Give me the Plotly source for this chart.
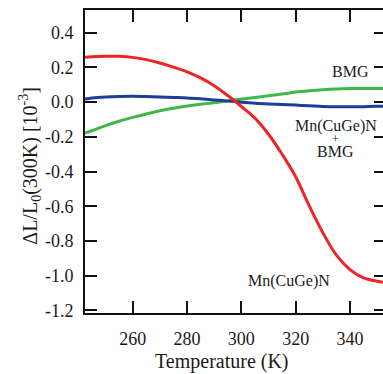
import plotly.graph_objects as go

temps = [242.4, 245, 250, 255, 260, 265, 270, 275, 280, 285, 290, 295, 300,
         305, 310, 315, 320, 325, 330, 335, 340, 345, 350, 352.2]

mn_cuge_n = [0.258, 0.262, 0.265, 0.264, 0.258, 0.245, 0.226, 0.202, 0.175, 0.140,
             0.095, 0.038, -0.025, -0.092, -0.185, -0.300, -0.430, -0.598, -0.752,
             -0.882, -0.965, -1.013, -1.032, -1.038]
bmg = [-0.178, -0.165, -0.135, -0.110, -0.088, -0.068, -0.050, -0.035, -0.022, -0.012,
       -0.003, 0.007, 0.018, 0.027, 0.037, 0.047, 0.058, 0.066, 0.072, 0.076, 0.078,
       0.079, 0.079, 0.079]
composite = [0.018, 0.024, 0.030, 0.033, 0.034, 0.032, 0.030, 0.027, 0.024, 0.019,
             0.013, 0.007, 0.000, -0.006, -0.010, -0.014, -0.017, -0.021, -0.025,
             -0.027, -0.027, -0.026, -0.024, -0.023]

x_ticks = [260, 280, 300, 320, 340]
y_ticks = [0.4, 0.2, 0.0, -0.2, -0.4, -0.6, -0.8, -1.0, -1.2]
y_tick_text = ["0.4", "0.2", "0.0", "-0.2", "-0.4", "-0.6", "-0.8", "-1.0", "-1.2"]

FONT = "Liberation Serif"
TXT = "#1a1a1a"
x_range = [242.44, 352.15]
y_range = [-1.215, 0.531]

fig = go.Figure()
fig.add_trace(go.Scatter(x=temps, y=bmg, mode="lines",
                         line=dict(color="#3fb84a", width=3), line_shape="spline"))
fig.add_trace(go.Scatter(x=temps, y=composite, mode="lines",
                         line=dict(color="#1f3d98", width=3), line_shape="spline"))
fig.add_trace(go.Scatter(x=temps, y=mn_cuge_n, mode="lines",
                         line=dict(color="#f02424", width=3), line_shape="spline"))
# invisible trace for right-side ticks
fig.add_trace(go.Scatter(x=[temps[0]], y=[0], yaxis="y2", mode="markers",
                         marker=dict(opacity=0), hoverinfo="skip"))

fig.update_layout(
    width=383, height=374,
    margin=dict(l=85, r=0, t=10, b=61),
    paper_bgcolor="white", plot_bgcolor="white",
    showlegend=False,
    font=dict(family=FONT, size=18, color=TXT),
    xaxis=dict(range=x_range, tickvals=x_ticks, ticks="inside", ticklen=12,
               tickwidth=2, tickcolor="#111", showline=True, linewidth=2,
               linecolor="#111", mirror="ticks", showgrid=False, zeroline=False,
               tickfont=dict(family=FONT, size=18),
               ticklabelstandoff=8),
    yaxis=dict(range=y_range, tickvals=y_ticks, ticktext=y_tick_text,
               ticks="inside", ticklen=12, tickwidth=2, tickcolor="#111",
               showline=True, linewidth=2, linecolor="#111", showgrid=False,
               zeroline=False, tickfont=dict(family=FONT, size=18),
               ticklabelstandoff=6),
    yaxis2=dict(range=y_range, tickvals=y_ticks, overlaying="y", side="right",
                ticks="inside", ticklen=9, tickwidth=2, tickcolor="#111",
                showline=False, showgrid=False, zeroline=False,
                showticklabels=False),
)

fig.add_annotation(x=-0.1846, y=0.486, xref="paper", yref="paper",
                   text="ΔL/L<sub>0</sub>(300K) [10<sup>-3</sup>]", textangle=-90,
                   showarrow=False, xanchor="center", yanchor="middle",
                   font=dict(family=FONT, size=20))
fig.add_annotation(x=0.4587, y=-0.1596, xref="paper", yref="paper",
                   text="Temperature (K)", showarrow=False,
                   xanchor="center", yanchor="middle",
                   font=dict(family=FONT, size=20))
fig.add_annotation(x=340.0, y=0.174, text="BMG", showarrow=False,
                   font=dict(family=FONT, size=16))
fig.add_annotation(x=334.7, y=-0.135, text="Mn(CuGe)N", showarrow=False,
                   font=dict(family=FONT, size=16))
fig.add_annotation(x=334.7, y=-0.214, text="+", showarrow=False,
                   font=dict(family=FONT, size=12))
fig.add_annotation(x=334.7, y=-0.284, text="BMG", showarrow=False,
                   font=dict(family=FONT, size=16))
fig.add_annotation(x=317.5, y=-1.029, text="Mn(CuGe)N", showarrow=False,
                   font=dict(family=FONT, size=16))

fig.write_html("out.html", config={"displayModeBar": False},
               post_script="document.body.style.margin='0';")
